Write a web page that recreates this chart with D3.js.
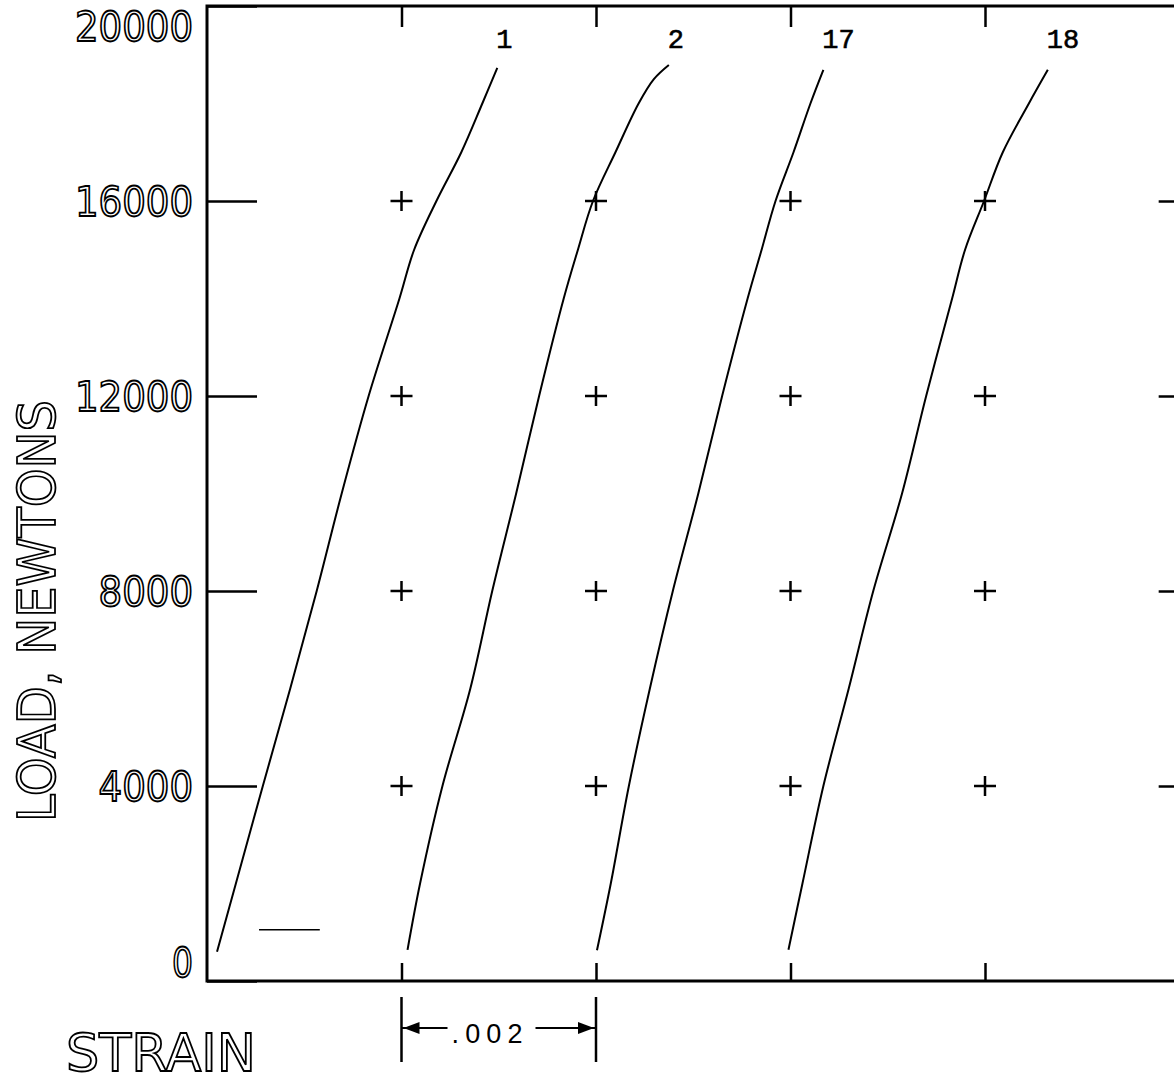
<!DOCTYPE html>
<html>
<head>
<meta charset="utf-8">
<title>Load vs strain</title>
<script src="https://cdn.jsdelivr.net/npm/d3@7"></script>
<style>
  body { margin: 0; background: #fff; }
  svg { display: block; }
</style>
</head>
<body>
<svg id="chart" width="1174" height="1082"></svg>
<script>
// Specimen curves (strain, load in N). Curves are staggered along the
// strain axis by roughly .002 so they can be read side by side.
const specimens = ["1", "2", "17", "18"];

const load1   = [600, 2000, 4000, 6000, 8000, 10000, 12000, 14000, 15000, 16000, 17000, 18000, 18730];
const strain1 = [0.000103, 0.000297, 0.000574, 0.000856, 0.001128, 0.001385, 0.001662, 0.001979, 0.002130, 0.002359, 0.002615, 0.002831, 0.002985];

const load2   = [640, 2000, 4000, 6000, 8000, 10000, 12000, 14000, 15000, 16000, 17000, 18000, 18500, 18790];
const strain2 = [0.002062, 0.002191, 0.002421, 0.002708, 0.002933, 0.003179, 0.003415, 0.003668, 0.003814, 0.003969, 0.004200, 0.004438, 0.004595, 0.004749];

const load17   = [630, 2000, 4000, 6000, 8000, 10000, 12000, 14000, 15000, 16000, 17000, 18000, 18690];
const strain17 = [0.004010, 0.004152, 0.004338, 0.004554, 0.004790, 0.005052, 0.005297, 0.005559, 0.005703, 0.005846, 0.006031, 0.006205, 0.006338];

const load18   = [640, 2000, 4000, 6000, 8000, 10000, 12000, 14000, 15000, 16000, 17000, 18000, 18690];
const strain18 = [0.005979, 0.006123, 0.006338, 0.006599, 0.006851, 0.007147, 0.007395, 0.007662, 0.007795, 0.007990, 0.008183, 0.008451, 0.008646];

// Axis ticks
const loadTicks   = [0, 4000, 8000, 12000, 16000, 20000];
const loadLabels  = ["0", "4000", "8000", "12000", "16000", "20000"];
const strainTicks = [0.002, 0.004, 0.006, 0.008];
const gridLoads   = [4000, 8000, 12000, 16000];

// Short reference mark near the origin
const markLoad = 1050;
const markStrain = [0.000535, 0.00116];

// Strain scale bar
const scaleBar = [0.002, 0.004];
const scaleBarLabel = ".002";

const curves = [
  { name: specimens[0], s: strain1,  l: load1 },
  { name: specimens[1], s: strain2,  l: load2 },
  { name: specimens[2], s: strain17, l: load17 },
  { name: specimens[3], s: strain18, l: load18 }
].map(c => ({ name: c.name, pts: c.s.map((v, i) => ({ s: v, l: c.l[i] })) }));

const svg = d3.select("#chart");
const x = d3.scaleLinear().domain([0, 0.010]).range([207, 1179.5]);
const y = d3.scaleLinear().domain([0, 20000]).range([981, 6]);
const xRight = x(0.0103);

const ink = "#000";

// Plot frame
svg.append("rect")
  .attr("x", x(0)).attr("y", y(20000))
  .attr("width", xRight - x(0)).attr("height", y(0) - y(20000))
  .attr("fill", "none").attr("stroke", ink).attr("stroke-width", 3);

// Left load axis: long inward ticks with outlined plotter-style numerals
const leftAxis = svg.append("g")
  .attr("transform", `translate(${x(0)},0)`)
  .call(d3.axisLeft(y).tickValues(loadTicks).tickSize(-50).tickPadding(14)
        .tickFormat((d, i) => loadLabels[i]));
leftAxis.select(".domain").remove();
leftAxis.selectAll(".tick line").attr("stroke", ink).attr("stroke-width", 2.5);
leftAxis.selectAll(".tick text")
  .attr("font-family", "DejaVu Sans, sans-serif")
  .attr("font-size", 40)
  .attr("fill", "#fff").attr("stroke", ink).attr("stroke-width", 1.8)
  .attr("textLength", d => (d === 0 ? 21 : 23.6 * String(d).length))
  .attr("lengthAdjust", "spacingAndGlyphs")
  .attr("dy", d => d === 20000 ? "0.85em" : d === 0 ? "-0.12em" : "0.36em");

// Right side inward ticks
const rightAxis = svg.append("g")
  .attr("transform", `translate(${xRight},0)`)
  .call(d3.axisRight(y).tickValues(gridLoads).tickSize(-50).tickFormat(""));
rightAxis.select(".domain").remove();
rightAxis.selectAll(".tick line").attr("stroke", ink).attr("stroke-width", 2.5);

// Top and bottom strain ticks
const topAxis = svg.append("g")
  .attr("transform", `translate(0,${y(20000)})`)
  .call(d3.axisTop(x).tickValues(strainTicks).tickSize(-21).tickFormat(""));
topAxis.select(".domain").remove();
topAxis.selectAll(".tick line").attr("stroke", ink).attr("stroke-width", 2.5);

const bottomAxis = svg.append("g")
  .attr("transform", `translate(0,${y(0)})`)
  .call(d3.axisBottom(x).tickValues(strainTicks).tickSize(-18).tickFormat(""));
bottomAxis.select(".domain").remove();
bottomAxis.selectAll(".tick line").attr("stroke", ink).attr("stroke-width", 2.5);

// Grid crosses
const crosses = [];
strainTicks.forEach(s => gridLoads.forEach(l => crosses.push({ s, l })));
svg.append("g").selectAll("path").data(crosses).join("path")
  .attr("transform", d => `translate(${x(d.s)},${y(d.l)})`)
  .attr("d", "M-11,0H11M0,-10V10")
  .attr("stroke", ink).attr("stroke-width", 2.5).attr("fill", "none");

// Reference mark
svg.append("line")
  .attr("x1", x(markStrain[0])).attr("x2", x(markStrain[1]))
  .attr("y1", y(markLoad)).attr("y2", y(markLoad))
  .attr("stroke", ink).attr("stroke-width", 1.5);

// Load–strain curves
const line = d3.line().x(d => x(d.s)).y(d => y(d.l)).curve(d3.curveCatmullRom);
svg.append("g").selectAll("path").data(curves).join("path")
  .attr("d", d => line(d.pts))
  .attr("fill", "none").attr("stroke", ink).attr("stroke-width", 2);

// Specimen numbers above each curve
svg.append("g").selectAll("text").data(curves).join("text")
  .attr("x", d => x(d.pts[d.pts.length - 1].s) - 1)
  .attr("y", 48)
  .attr("text-anchor", "start")
  .attr("font-family", "Liberation Mono, monospace")
  .attr("font-size", 27)
  .attr("fill", ink).attr("stroke", ink).attr("stroke-width", 0.6)
  .text(d => d.name);

// Axis titles
svg.append("text")
  .attr("transform", "translate(55,611) rotate(-90)")
  .attr("text-anchor", "middle")
  .attr("font-family", "DejaVu Sans, sans-serif")
  .attr("font-size", 52)
  .attr("fill", "#fff").attr("stroke", ink).attr("stroke-width", 1.8)
  .attr("textLength", 422).attr("lengthAdjust", "spacingAndGlyphs")
  .text("LOAD, NEWTONS");

svg.append("text")
  .attr("x", 66).attr("y", 1071)
  .attr("font-family", "DejaVu Sans, sans-serif")
  .attr("font-size", 52)
  .attr("fill", "#fff").attr("stroke", ink).attr("stroke-width", 1.8)
  .attr("textLength", 190).attr("lengthAdjust", "spacingAndGlyphs")
  .text("STRAIN");

// Strain scale bar  |<- .002 ->|
const bar = svg.append("g");
const xa = x(scaleBar[0]), xb = x(scaleBar[1]);
const barY = 1028;
bar.selectAll("line.edge").data(scaleBar).join("line")
  .attr("class", "edge")
  .attr("x1", d => x(d)).attr("x2", d => x(d))
  .attr("y1", 997).attr("y2", 1062)
  .attr("stroke", ink).attr("stroke-width", 2.5);
bar.append("line").attr("x1", xa).attr("x2", xa + 46).attr("y1", barY).attr("y2", barY)
  .attr("stroke", ink).attr("stroke-width", 2);
bar.append("line").attr("x1", xa + 134).attr("x2", xb).attr("y1", barY).attr("y2", barY)
  .attr("stroke", ink).attr("stroke-width", 2);
bar.append("path")
  .attr("d", `M${xa + 2},${barY}L${xa + 18},${barY - 6}L${xa + 18},${barY + 6}Z`)
  .attr("fill", ink);
bar.append("path")
  .attr("d", `M${xb - 2},${barY}L${xb - 18},${barY - 6}L${xb - 18},${barY + 6}Z`)
  .attr("fill", ink);
bar.append("text")
  .attr("x", xa + 50).attr("y", 1043)
  .attr("font-family", "Liberation Sans, sans-serif")
  .attr("font-size", 27)
  .attr("fill", ink)
  .attr("textLength", 71).attr("lengthAdjust", "spacing")
  .text(scaleBarLabel);
</script>
</body>
</html>
